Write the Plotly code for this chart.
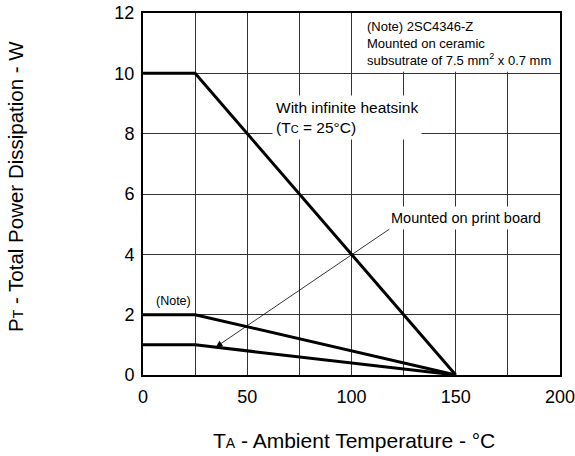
import plotly.graph_objects as go

# Data
temp_heatsink = [0, 25, 150]
power_heatsink = [10, 10, 0]
temp_note = [0, 25, 150]
power_note = [2, 2, 0]
temp_board = [0, 25, 150]
power_board = [1, 1, 0]

x_tickvals = [0, 25, 50, 75, 100, 125, 150, 175, 200]
x_ticktext = ["0", "", "50", "", "100", "", "150", "", "200"]
y_tickvals = [0, 2, 4, 6, 8, 10, 12]
y_ticktext = ["0", "2", "4", "6", "8", "10", "12"]

FONT = "Liberation Sans, Arial, sans-serif"

fig = go.Figure()
for xs, ys in [(temp_heatsink, power_heatsink), (temp_note, power_note), (temp_board, power_board)]:
    fig.add_trace(go.Scatter(x=xs, y=ys, mode="lines",
                             line=dict(color="black", width=3), showlegend=False,
                             hoverinfo="skip"))

# white area behind the note box (covers gridlines)
fig.add_shape(type="rect", xref="x", yref="y", x0=100.5, x1=200, y0=10.05, y1=12,
              fillcolor="white", line=dict(width=0), layer="between")

fig.update_xaxes(range=[0, 200], tickvals=x_tickvals, ticktext=x_ticktext,
                 showgrid=True, gridcolor="#333", gridwidth=1,
                 showline=True, linecolor="black", linewidth=2, mirror=True,
                 ticks="", zeroline=False, ticklabelstandoff=4, automargin=False,
                 ticklabeloverflow="allow",
                 tickfont=dict(family=FONT, size=18, color="black"))
fig.update_yaxes(range=[0, 12], tickvals=y_tickvals, ticktext=y_ticktext,
                 showgrid=True, gridcolor="#333", gridwidth=1,
                 showline=True, linecolor="black", linewidth=2, mirror=True,
                 ticks="", zeroline=False, ticklabelstandoff=3, automargin=False,
                 ticklabeloverflow="allow",
                 tickfont=dict(family=FONT, size=18, color="black"))

annots = [
    dict(x=106.5, y=11.0, xref="x", yref="y", xanchor="left", yanchor="middle",
         text="(Note) 2SC4346-Z<br>Mounted on ceramic<br>subsutrate of 7.5 mm<sup>2</sup> x 0.7 mm",
         showarrow=False, align="left",
         font=dict(family=FONT, size=13, color="black")),
    dict(x=61.9, y=8.55, xref="x", yref="y", xanchor="left", yanchor="middle",
         text="With infinite heatsink<br>(T<span style='font-size:11px'>C</span> = 25°C)",
         showarrow=False, align="left", bgcolor="white", borderpad=3,
         font=dict(family=FONT, size=15.5, color="black")),
    dict(x=117, y=5.2, xref="x", yref="y", xanchor="left", yanchor="middle",
         text="Mounted on print board", showarrow=False, bgcolor="white", borderpad=3,
         font=dict(family=FONT, size=14.5, color="black")),
    dict(x=5.5, y=2.45, xref="x", yref="y", xanchor="left", yanchor="middle",
         text="(Note)", showarrow=False,
         font=dict(family=FONT, size=12.5, color="black")),
    dict(x=35, y=0.93, xref="x", yref="y", ax=118.9, ay=4.87, axref="x", ayref="y",
         text="", showarrow=True, arrowhead=2, arrowsize=1.6, arrowwidth=0.8,
         arrowcolor="black"),
    dict(x=-0.307, y=0.522, xref="paper", yref="paper", xanchor="center", yanchor="middle",
         text="P<span style='font-size:14px'>T</span> - Total Power Dissipation - W",
         textangle=-90, showarrow=False,
         font=dict(family=FONT, size=20.5, color="black")),
    dict(x=0.506, y=-0.18, xref="paper", yref="paper", xanchor="center", yanchor="middle",
         text="T<span style='font-size:14px'>A</span> - Ambient Temperature - °C",
         showarrow=False, font=dict(family=FONT, size=21, color="black")),
]
fig.update_layout(annotations=annots, width=575, height=456,
                  margin=dict(l=143, r=15, t=13, b=81, autoexpand=False),
                  paper_bgcolor="white", plot_bgcolor="white",
                  font=dict(family=FONT, color="black"))

fig.write_html("out.html", config={"displayModeBar": False},
               post_script="document.body.style.margin='0';document.body.style.overflow='hidden';")
